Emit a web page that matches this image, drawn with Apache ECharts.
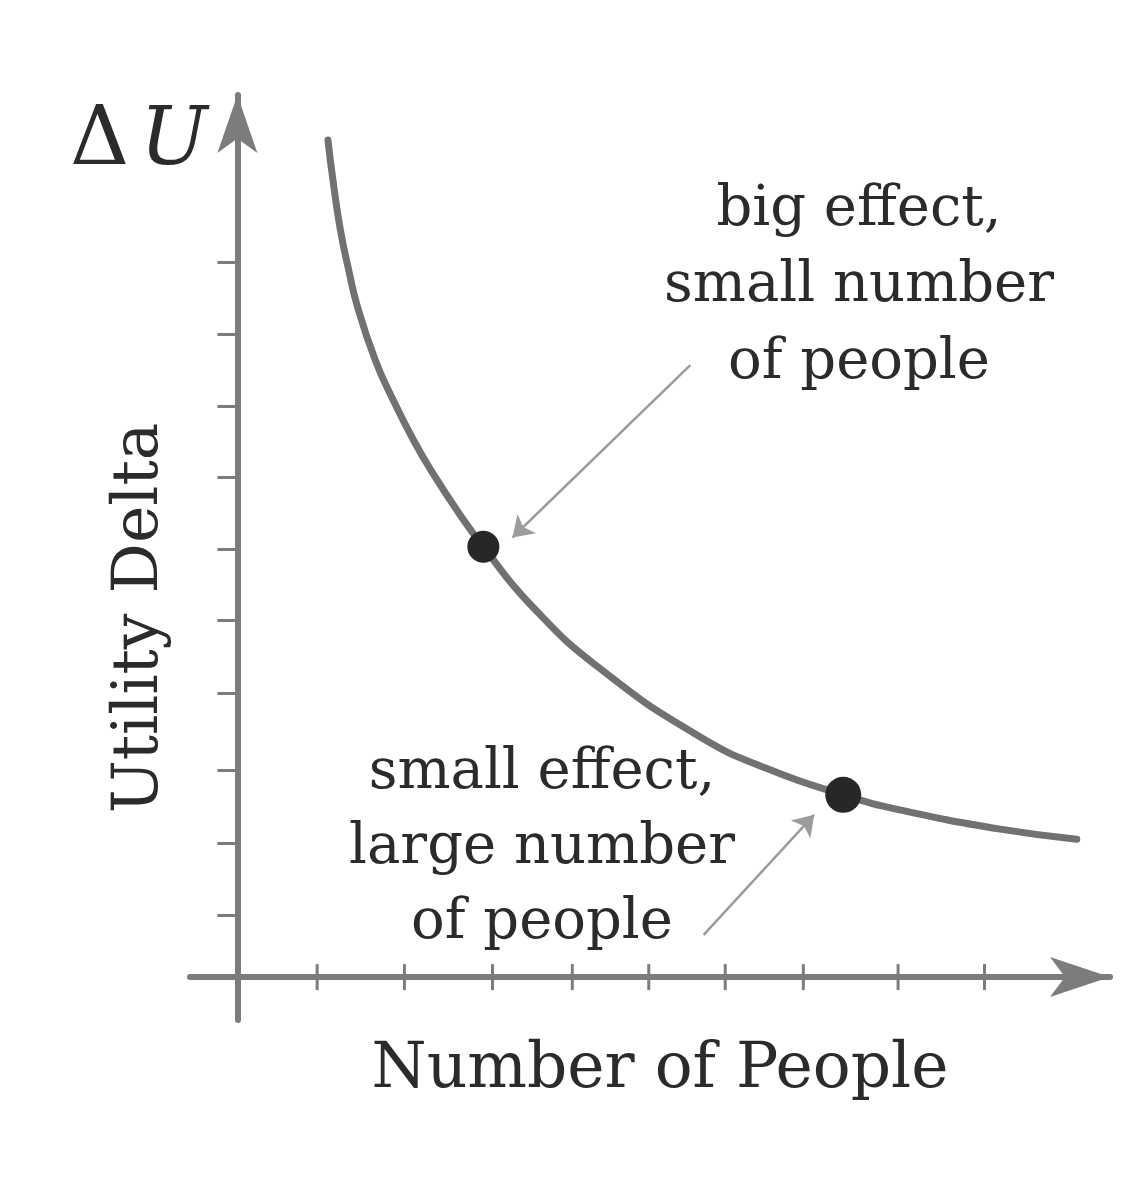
<!DOCTYPE html>
<html>
<head>
<meta charset="utf-8">
<script src="https://cdn.jsdelivr.net/npm/echarts@6/dist/echarts.min.js"></script>
<style>
html,body{margin:0;padding:0;background:#ffffff;}
#chart{width:1143px;height:1200px;}
</style>
</head>
<body>
<div id="chart"></div>
<script>
// ---- data ----
var curveX = [1.09, 1.15, 1.24, 1.34, 1.44, 1.66, 1.88, 2.12, 2.33, 2.66, 2.96, 3.52, 4.36, 5.57, 6.41, 7.29, 7.97, 9.18, 10.10];
var curveY = [11.71, 11.15, 10.45, 9.89, 9.40, 8.63, 8.06, 7.51, 7.09, 6.50, 6.02, 5.22, 4.32, 3.36, 2.90, 2.55, 2.34, 2.07, 1.93];
var dotX = [2.96, 7.29];
var dotY = [6.02, 2.55];
var dotSize = [32, 36];
var xTicks = [0.96, 2.01, 3.07, 4.03, 4.95, 5.87, 6.81, 7.95, 8.99];
var yTicks = [0.87, 1.87, 2.90, 3.97, 4.99, 5.99, 6.99, 7.99, 8.99, 10.0];
var arrowFrom = [[5.45, 8.56], [5.61, 0.59]];
var arrowTo = [[3.31, 6.15], [6.94, 2.27]];
var xTitle = 'Number of People';
var yTitle = 'Utility Delta';
var topLabelA = 'Δ';
var topLabelB = 'U';
var note1 = ['big effect,', 'small number', 'of people'];
var note2 = ['small effect,', 'large number', 'of people'];

var curveData = curveX.map(function (x, i) { return [x, curveY[i]]; });
var dotData = dotX.map(function (x, i) { return { value: [x, dotY[i]], symbolSize: dotSize[i] }; });
var xTickData = xTicks.map(function (x) { return [x, 0]; });
var arrowData = arrowFrom.map(function (f, i) { return [{ coord: f }, { coord: arrowTo[i] }]; });

var FONT = '"DejaVu Serif", "Liberation Serif", serif';
var TXT = '#2b2b2b';
var AX = '#7c7c7c';

var graphics = [];
function addLine(txt, x, y, size) {
  graphics.push({ type: 'text', silent: true,
    style: { text: txt, x: x, y: y, font: size + 'px ' + FONT, fill: TXT, align: 'center', verticalAlign: 'middle' } });
}
note1.forEach(function (t, i) { addLine(t, 859, 210 + i * 76.5, 56); });
note2.forEach(function (t, i) { addLine(t, 542, 773 + i * 75, 56); });
addLine(xTitle, 660, 1071, 63);
graphics.push({ type: 'text', silent: true, x: 141, y: 618, rotation: Math.PI / 2,
  style: { text: yTitle, x: 0, y: 0, font: '63px ' + FONT, fill: TXT, align: 'center', verticalAlign: 'middle' } });
graphics.push({ type: 'text', silent: true,
  style: { text: topLabelA, x: 70, y: 143, font: '82px ' + FONT, fill: TXT, align: 'left', verticalAlign: 'middle' } });
graphics.push({ type: 'text', silent: true,
  style: { text: topLabelB, x: 140, y: 143, font: 'italic 80px ' + FONT, fill: TXT, align: 'left', verticalAlign: 'middle' } });

var chart = echarts.init(document.getElementById('chart'), null, { renderer: 'canvas' });
chart.setOption({
  backgroundColor: '#ffffff',
  animation: false,
  grid: { left: 190, top: 95, width: 920, height: 925, containLabel: false },
  xAxis: {
    type: 'value', min: -0.57, max: 10.5,
    axisLine: { show: true, onZero: true, symbol: ['none', 'arrow'], symbolSize: [30, 60],
      lineStyle: { color: AX, width: 6 } },
    axisTick: { show: false },
    axisLabel: { show: false }, splitLine: { show: false }
  },
  yAxis: {
    type: 'value', min: -0.6, max: 12.34,
    axisLine: { show: true, onZero: true, symbol: ['none', 'arrow'], symbolSize: [30, 58],
      lineStyle: { color: AX, width: 6 } },
    axisTick: { show: true, customValues: yTicks, length: 20, inside: false, lineStyle: { color: AX, width: 3 } },
    axisLabel: { show: false }, splitLine: { show: false }
  },
  series: [
    {
      type: 'scatter', data: xTickData, silent: true, z: 1,
      symbol: 'rect', symbolSize: [3, 26],
      itemStyle: { color: AX, opacity: 1 }
    },
    {
      type: 'line', data: curveData, smooth: 0.5, showSymbol: false, silent: true, z: 3,
      lineStyle: { color: '#717171', width: 7, cap: 'round' },
      markLine: {
        silent: true, symbol: ['none', 'arrow'], symbolSize: 20,
        label: { show: false },
        lineStyle: { color: '#9c9c9c', width: 2.5, type: 'solid' },
        data: arrowData
      }
    },
    {
      type: 'scatter', data: dotData, silent: true, z: 5,
      itemStyle: { color: '#272727', opacity: 1 }
    }
  ],
  graphic: graphics
});
</script>
</body>
</html>
